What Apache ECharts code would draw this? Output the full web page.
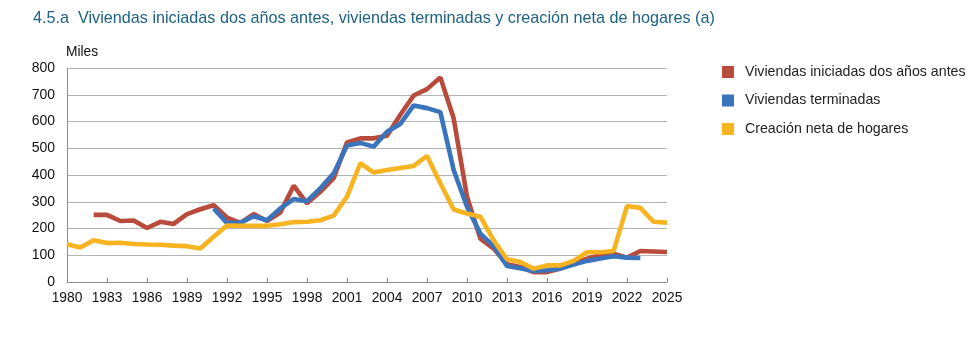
<!DOCTYPE html>
<html>
<head>
<meta charset="utf-8">
<script src="https://cdn.jsdelivr.net/npm/echarts@6/dist/echarts.min.js"></script>
<style>
html,body{margin:0;padding:0;background:#fff;}
#c{width:971px;height:348px;}
</style>
</head>
<body>
<div id="c"></div>
<script>
const years = [];
for (let y = 1980; y <= 2025; y++) years.push(y);

const seriesNames = ['Viviendas iniciadas dos años antes', 'Viviendas terminadas', 'Creación neta de hogares'];

// 1982..2025
const iniciadas = [251, 251, 228, 230, 202, 225, 217, 254, 272, 287, 241, 221, 254, 228, 260, 360, 294, 337, 388,
  522, 537, 537, 547, 625, 697, 721, 765, 612, 319, 162, 125, 66, 56, 37, 37, 50, 69, 87, 100, 106, 91, 116, 114, 112];
const iniciadasStart = 1982;

// 1991..2023
const terminadas = [275, 221, 221, 246, 231, 275, 310, 302, 350, 406,
  510, 520, 506, 562, 591, 660, 650, 635, 419, 281, 181, 134, 60, 51, 41, 44, 50, 65, 79, 88, 96, 91, 90];
const terminadasStart = 1991;

// 1980..2025
const hogares = [141, 129, 156, 146, 147, 142, 140, 139, 136, 134, 125, 169, 211, 210, 210, 210, 216, 224, 225, 231, 248,
  319, 444, 409, 419, 426, 434, 471, 369, 271, 256, 244, 156, 85, 75, 50, 62, 62, 79, 111, 111, 116, 284, 277, 225, 222];
const hogaresStart = 1980;

const colors = ['#b84b3c', '#3a74bc', '#f7b420'];
const FONT = 'Liberation Sans, Arial, Helvetica, sans-serif';

function pairs(start, vals) { return vals.map((v, i) => [start + i, v]); }

const chart = echarts.init(document.getElementById('c'), null, {renderer: 'canvas'});
chart.setOption({
  animation: false,
  backgroundColor: '#fff',
  title: {
    text: '4.5.a  Viviendas iniciadas dos años antes, viviendas terminadas y creación neta de hogares (a)',
    left: 28, top: 6,
    textStyle: {color: '#1d6283', fontSize: 16.2, fontWeight: 'normal', fontFamily: FONT}
  },
  legend: {
    orient: 'vertical', left: 717, top: 60,
    icon: 'rect', itemWidth: 12, itemHeight: 12, itemGap: 14.5,
    textStyle: {fontSize: 14.2, color: '#222', fontFamily: FONT, padding: [0, 0, 0, 6]},
    data: seriesNames
  },
  grid: {left: 67, right: 304, top: 68, bottom: 66, containLabel: false},
  xAxis: {
    type: 'value', min: 1980, max: 2025, interval: 3,
    axisLine: {show: true, lineStyle: {color: '#8a8a8a', width: 1}},
    axisTick: {show: true, inside: true, length: 4, lineStyle: {color: '#8a8a8a'}},
    axisLabel: {color: '#111', fontSize: 13.8, fontFamily: FONT, margin: 9, formatter: v => String(v)},
    splitLine: {show: false}
  },
  yAxis: {
    type: 'value', min: 0, max: 800, interval: 100,
    name: 'Miles', nameLocation: 'end', nameGap: 9,
    nameTextStyle: {color: '#111', fontSize: 13.8, fontFamily: FONT, align: 'left', padding: [0, 0, 0, -1]},
    axisLine: {show: true, lineStyle: {color: '#8a8a8a', width: 1}},
    axisTick: {show: false},
    axisLabel: {color: '#111', fontSize: 14, fontFamily: FONT, margin: 12},
    splitLine: {show: true, lineStyle: {color: '#b5b5b5', width: 1}}
  },
  series: [
    {name: seriesNames[0], type: 'line', data: pairs(iniciadasStart, iniciadas), showSymbol: false, symbol: 'none',
     lineStyle: {color: colors[0], width: 4.6}, itemStyle: {color: colors[0]}, z: 2},
    {name: seriesNames[1], type: 'line', data: pairs(terminadasStart, terminadas), showSymbol: false, symbol: 'none',
     lineStyle: {color: colors[1], width: 4.6}, itemStyle: {color: colors[1]}, z: 3},
    {name: seriesNames[2], type: 'line', data: pairs(hogaresStart, hogares), showSymbol: false, symbol: 'none',
     lineStyle: {color: colors[2], width: 4.6}, itemStyle: {color: colors[2]}, z: 4}
  ]
});
</script>
</body>
</html>
